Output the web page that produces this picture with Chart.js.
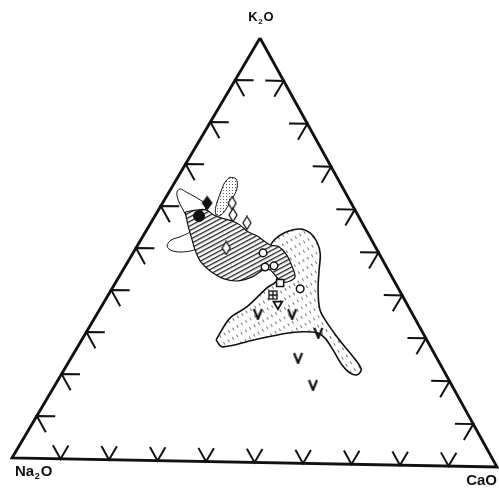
<!DOCTYPE html>
<html><head><meta charset="utf-8">
<script src="https://cdn.jsdelivr.net/npm/chart.js@4.4.1/dist/chart.umd.min.js"></script>
<style>html,body{margin:0;padding:0;background:#fff}#wrap{width:499px;height:496px;position:relative}</style>
</head><body><div id="wrap"><canvas id="c"></canvas></div>
<script>
// ---- Data: ternary compositions, as [K2O %, CaO %]; Na2O = 100 - K2O - CaO ----
const apexLabels = [['K','2','O'], ['Na','2','O'], ['Ca','','O']]; // [main, subscript, main]
const tickValues = [10, 20, 30, 40, 50, 60, 70, 80, 90];

const fieldA = [[60.9,8.7],[62.3,5.9],[63.4,3.5],[64.1,1.9],[63.4,1.6],[61.5,2.8],[59.6,4.6],[57.3,6.8],[54.5,9.1],[53.0,7.9],[52.0,6.2],[50.6,6.1],[49.5,7.7],[49.3,10.3],[50.0,12.4],[51.7,13.6]];
const fieldB = [[67.1,10.6],[66.7,12.1],[64.8,13.3],[62.7,13.7],[60.3,13.7],[58.4,13.5],[57.9,12.7],[59.1,11.7],[61.2,11.0],[63.8,10.5],[65.9,10.2]];
const fieldC = [[58.7,5.7],[59.2,7.7],[59.3,9.7],[58.1,11.9],[57.4,13.9],[56.8,16.3],[55.9,18.4],[54.3,20.9],[53.4,23.2],[52.2,25.3],[51.3,27.0],[50.9,29.0],[49.0,31.6],[46.4,34.0],[43.9,35.9],[42.9,35.4],[42.6,34.1],[43.6,32.4],[45.4,30.0],[45.4,28.6],[43.7,27.2],[42.7,24.8],[43.1,21.7],[44.9,17.9],[47.0,14.9],[49.3,12.7],[52.1,10.5],[55.4,8.0]];
const fieldD = [[28.7,27.4],[33.9,27.6],[36.6,29.7],[41.2,31.5],[43.1,32.6],[47.8,29.0],[50.6,27.3],[52.5,27.2],[54.4,28.7],[55.2,31.2],[54.3,33.7],[52.2,36.2],[49.4,38.3],[45.6,40.0],[40.9,42.2],[36.2,45.0],[33.2,48.0],[29.7,52.0],[26.2,56.3],[23.9,59.1],[22.3,60.6],[21.1,60.4],[21.5,58.7],[23.1,56.4],[26.8,52.5],[29.6,49.4],[30.8,47.2],[31.0,44.2],[30.6,41.0],[28.8,34.9],[27.1,29.5]];

const filledDiamonds = [[60.9,9.1]];
const filledCircles  = [[57.8,9.0]];
const openDiamonds   = [[61.0,14.2],[58.2,15.8],[56.4,19.6],[50.4,18.4]];
const openCircles    = [[49.4,26.5],[46.1,28.6],[46.4,30.3],[41.1,38.4]];
const openSquares    = [[42.4,33.6]];
const gridSquares    = [[39.5,33.6]];
const downTriangles  = [[37.4,35.7]];
const vMarks         = [[35.0,32.8],[35.1,39.8],[30.8,47.4],[24.8,46.3],[18.5,52.6]];

// ---- Geometry of the (slightly skewed, scanned) triangle in plot units ----
const VK = [260, 38], VN = [12, 458], VC = [497, 467];
function tern(k, c) {
  const n = 100 - k - c;
  return { x: (k*VK[0] + n*VN[0] + c*VC[0]) / 100, y: (k*VK[1] + n*VN[1] + c*VC[1]) / 100 };
}
const pts = arr => arr.map(a => tern(a[0], a[1]));
const ring = arr => { const p = pts(arr); p.push(p[0]); return p; };
const GAP = { x: null, y: null };

const outline = [tern(100,0), tern(0,0), tern(0,100), tern(100,0)];
const ts = 3.8, tb = 3.2;
const ticks = [];
tickValues.forEach(v => {
  ticks.push(tern(v, ts), tern(v, 0), tern(v - ts, ts), GAP);                       // Na2O–K2O edge
  ticks.push(tern(v, 100 - v - ts), tern(v, 100 - v), tern(v - ts, 100 - v), GAP);  // K2O–CaO edge
  ticks.push(tern(tb, v - tb), tern(0, v), tern(tb, v), GAP);                       // Na2O–CaO edge
});

const ctxMain = document.getElementById('c').getContext('2d');
function makeTile(w, h, draw) { const cv = document.createElement('canvas'); cv.width = w; cv.height = h; draw(cv.getContext('2d'), w, h); return cv; }
function pattern(tile, angle) { const p = ctxMain.createPattern(tile, 'repeat'); if (angle && p.setTransform) p.setTransform(new DOMMatrix().rotate(angle)); return p; }

const hatch = pattern(makeTile(8, 4, g => { g.fillStyle = '#fff'; g.fillRect(0,0,8,4); g.fillStyle = 'rgba(20,20,20,0.95)'; g.fillRect(0, 0, 8, 1.3); }), -28);
const dashes = pattern(makeTile(5, 8, g => { g.fillStyle = '#fff'; g.fillRect(0,0,5,8); g.fillStyle = 'rgba(30,30,30,0.6)'; g.fillRect(2, 0, 1, 3); }), -30);
const dots = pattern(makeTile(3, 3, g => { g.fillStyle = '#fff'; g.fillRect(0,0,3,3); g.fillStyle = 'rgba(30,30,30,0.7)'; g.fillRect(1, 1, 1, 1); }), 0);

const vImg = makeTile(11, 12, g => { g.strokeStyle = '#111'; g.lineWidth = 2.2; g.beginPath(); g.moveTo(1.5,1); g.lineTo(5.5,11); g.lineTo(9.5,1); g.stroke(); });
const openDiaImg = makeTile(10, 15, g => { g.fillStyle = '#fff'; g.strokeStyle = '#111'; g.lineWidth = 1.3; g.beginPath(); g.moveTo(5,1); g.lineTo(9,7.5); g.lineTo(5,14); g.lineTo(1,7.5); g.closePath(); g.fill(); g.stroke(); });
const fillDiaImg = makeTile(12, 16, g => { g.fillStyle = '#111'; g.beginPath(); g.moveTo(6,0.5); g.lineTo(11.5,8); g.lineTo(6,15.5); g.lineTo(0.5,8); g.closePath(); g.fill(); });
const gridSqImg = makeTile(10, 10, g => { g.fillStyle = '#fff'; g.fillRect(1,1,8,8); g.strokeStyle = '#111'; g.lineWidth = 1.3; g.strokeRect(1,1,8,8); g.beginPath(); g.moveTo(5,1); g.lineTo(5,9); g.moveTo(1,5); g.lineTo(9,5); g.stroke(); });

const field = (data, bg, bw, order) => ({ data: ring(data), showLine: true, fill: 'shape', backgroundColor: bg, borderColor: '#111', borderWidth: bw, pointRadius: 0, tension: 0.35, order });
const marker = (data, style, extra, order) => Object.assign({ data: pts(data), showLine: false, pointStyle: style, pointRadius: 5, order }, extra);

const datasets = [
  field(fieldA, '#fff', 1, 20),
  field(fieldD, dashes, 1.6, 19),
  field(fieldC, hatch, 1.2, 18),
  field(fieldB, dots, 1, 17),
  { data: outline, showLine: true, fill: false, borderColor: '#111', borderWidth: 2.8, pointRadius: 0, tension: 0, order: 16, borderJoinStyle: 'miter' },
  { data: ticks, showLine: true, fill: false, borderColor: '#111', borderWidth: 2, pointRadius: 0, tension: 0, order: 15, spanGaps: false },
  marker(vMarks, vImg, {}, 9),
  marker(openDiamonds, openDiaImg, {}, 8),
  marker(filledDiamonds, fillDiaImg, {}, 7),
  marker(filledCircles, 'circle', { pointRadius: 5.5, pointBackgroundColor: '#111', pointBorderColor: '#111', pointBorderWidth: 1 }, 6),
  marker(openCircles, 'circle', { pointRadius: 3.8, pointBackgroundColor: '#fff', pointBorderColor: '#111', pointBorderWidth: 1.5 }, 5),
  marker(openSquares, 'rect', { pointRadius: 5, pointBackgroundColor: '#fff', pointBorderColor: '#111', pointBorderWidth: 1.5 }, 4),
  marker(gridSquares, gridSqImg, {}, 3),
  marker(downTriangles, 'triangle', { pointRadius: 5, pointRotation: 180, pointBackgroundColor: '#fff', pointBorderColor: '#111', pointBorderWidth: 1.8 }, 2)
];

function drawChem(g, parts, x, y, size, align) {
  const main = 'bold ' + size + 'px "Liberation Sans", Arial, sans-serif';
  const sub = 'bold ' + Math.round(size * 0.62) + 'px "Liberation Sans", Arial, sans-serif';
  g.font = main; const w0 = g.measureText(parts[0]).width, w2 = g.measureText(parts[2]).width;
  g.font = sub; const w1 = parts[1] ? g.measureText(parts[1]).width + 1.5 : 0;
  const total = w0 + w1 + w2;
  let sx = align === 'center' ? x - total / 2 : align === 'right' ? x - total : x;
  g.font = main; g.fillText(parts[0], sx, y); sx += w0;
  if (parts[1]) { g.font = sub; g.fillText(parts[1], sx + 0.7, y + size * 0.2); sx += w1; }
  g.font = main; g.fillText(parts[2], sx, y);
}
const labelPlugin = {
  id: 'apexLabels',
  afterDraw(chart) {
    const g = chart.ctx; g.save(); g.fillStyle = '#111'; g.textBaseline = 'alphabetic'; g.textAlign = 'left';
    drawChem(g, apexLabels[0], 261, 21, 13, 'center');
    drawChem(g, apexLabels[1], 15, 476, 15, 'left');
    drawChem(g, apexLabels[2], 497, 485, 15, 'right');
    g.restore();
  }
};

new Chart(ctxMain, {
  type: 'line',
  data: { datasets },
  options: {
    responsive: true, maintainAspectRatio: false, animation: false, events: [],
    layout: { padding: 0, autoPadding: false },
    plugins: { legend: { display: false }, tooltip: { enabled: false } },
    scales: {
      x: { type: 'linear', min: 0, max: 499, display: false },
      y: { type: 'linear', min: 0, max: 496, reverse: true, display: false }
    },
    elements: { line: { capBezierPoints: false } },
    clip: false
  },
  plugins: [labelPlugin]
});
</script></body></html>
